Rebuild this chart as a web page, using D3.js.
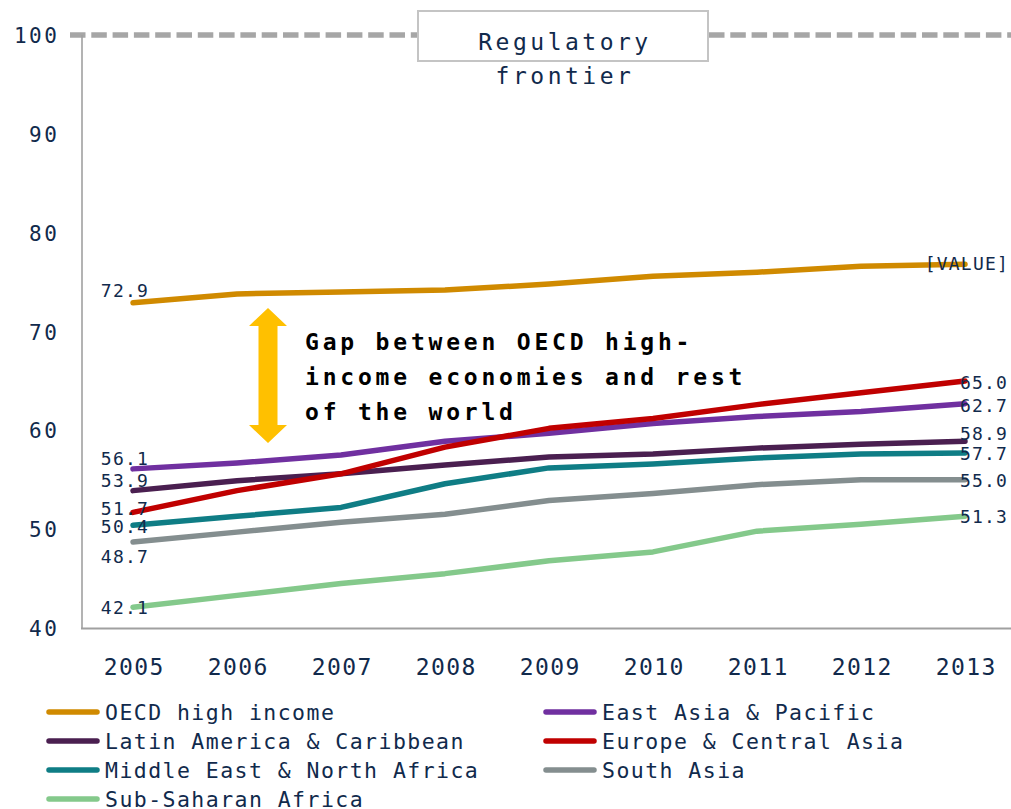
<!DOCTYPE html>
<html>
<head>
<meta charset="utf-8">
<script src="https://cdn.jsdelivr.net/npm/d3@7"></script>
<style>
  html, body { margin: 0; padding: 0; background: #fff; }
  svg { display: block; font-family: "DejaVu Sans Mono", monospace; }
</style>
</head>
<body>
<svg id="chart" width="1011" height="809"></svg>
<script>
// Regulatory scores by region, 2005-2013
const years = [2005, 2006, 2007, 2008, 2009, 2010, 2011, 2012, 2013];
const yTicks = [40, 50, 60, 70, 80, 90, 100];

const oecdHighIncome   = [72.9, 73.8, 74.0, 74.2, 74.8, 75.6, 76.0, 76.6, 76.8];
const eastAsiaPacific  = [56.1, 56.7, 57.5, 58.9, 59.7, 60.7, 61.4, 61.9, 62.7];
const latinAmerica     = [53.9, 54.9, 55.6, 56.5, 57.3, 57.6, 58.2, 58.6, 58.9];
const europeCentral    = [51.7, 53.9, 55.6, 58.3, 60.2, 61.2, 62.6, 63.8, 65.0];
const middleEastNA     = [50.4, 51.3, 52.2, 54.6, 56.2, 56.6, 57.2, 57.6, 57.7];
const southAsia        = [48.7, 49.7, 50.7, 51.5, 52.9, 53.6, 54.5, 55.0, 55.0];
const subSaharanAfrica = [42.1, 43.3, 44.5, 45.5, 46.8, 47.7, 49.8, 50.5, 51.3];

const seriesNames = [
  "OECD high income", "East Asia & Pacific", "Latin America & Caribbean",
  "Europe & Central Asia", "Middle East & North Africa", "South Asia",
  "Sub-Saharan Africa"
];
const seriesValues = [
  oecdHighIncome, eastAsiaPacific, latinAmerica, europeCentral,
  middleEastNA, southAsia, subSaharanAfrica
];
const seriesColors = ["#d08a00", "#7030a0", "#4a1f50", "#c00000", "#0f7d85", "#848e8f", "#84c98b"];

// End-label text (the OECD end label shows a placeholder)
const startLabels = ["72.9", "56.1", "53.9", "51.7", "50.4", "48.7", "42.1"];
const endLabels   = ["[VALUE]", "62.7", "58.9", "65.0", "57.7", "55.0", "51.3"];

// Vertical nudges for the start/end labels so they don't collide
const startNudge = [-12, -10.5, -10.5, -4, 1, 14.5, 0.5];
const endNudge   = [-1, 2, -8, 1.5, 0.5, 1, 0.5];

const ink = "#112a4c";
const svg = d3.select("#chart");

const x = d3.scalePoint().domain(years).range([133, 965]);
const y = d3.scaleLinear().domain([40, 100]).range([628, 35]);

// Regulatory frontier (dashed at 100)
svg.append("line")
  .attr("x1", 70).attr("x2", 1011)
  .attr("y1", y(100)).attr("y2", y(100))
  .attr("stroke", "#a6a6a6").attr("stroke-width", 5.5)
  .attr("stroke-dasharray", "15.5 5.8");

// Axes lines
svg.append("line")
  .attr("x1", 82).attr("x2", 82).attr("y1", y(100)).attr("y2", y(40))
  .attr("stroke", "#a0a0a0").attr("stroke-width", 1.6);
svg.append("line")
  .attr("x1", 81).attr("x2", 1011).attr("y1", y(40) + 0.5).attr("y2", y(40) + 0.5)
  .attr("stroke", "#a0a0a0").attr("stroke-width", 2);

// Y tick labels
const yAxis = d3.axisLeft(y).tickValues(yTicks).tickSize(0).tickPadding(0);
const gy = svg.append("g").attr("transform", "translate(57,0)").call(yAxis);
gy.select(".domain").remove();
gy.selectAll("text")
  .attr("fill", ink)
  .style("font-family", "DejaVu Sans Mono")
  .style("font-size", "21px")
  .style("letter-spacing", "2.6px")
  .attr("dx", "2.6px")
  .attr("dy", "0.36em");

// X tick labels
const xAxis = d3.axisBottom(x).tickSize(0).tickPadding(0).tickFormat(d3.format("d"));
const gx = svg.append("g").attr("transform", "translate(0,667)").call(xAxis);
gx.select(".domain").remove();
gx.selectAll("text")
  .attr("fill", ink)
  .attr("y", 0)
  .attr("dy", "0.36em")
  .attr("dx", "0.7px")
  .style("font-family", "DejaVu Sans Mono")
  .style("font-size", "23px")
  .style("letter-spacing", "1.4px");

// Annotation box
svg.append("rect")
  .attr("x", 418).attr("y", 11).attr("width", 290).attr("height", 50)
  .attr("fill", "#fff").attr("stroke", "#c4c4c4").attr("stroke-width", 2);
svg.append("text")
  .attr("x", 565).attr("y", 0)
  .attr("text-anchor", "middle")
  .attr("fill", ink)
  .style("font-size", "23px")
  .style("letter-spacing", "3.5px")
  .selectAll("tspan")
  .data(["Regulatory", "frontier"])
  .join("tspan")
  .attr("x", 565)
  .attr("y", (d, i) => 50 + i * 34)
  .text(d => d);

// Lines
const line = d3.line()
  .x((d, i) => x(years[i]))
  .y(d => y(d));

svg.append("g")
  .selectAll("path")
  .data(seriesValues)
  .join("path")
  .attr("d", d => line(d))
  .attr("fill", "none")
  .attr("stroke", (d, i) => seriesColors[i])
  .attr("stroke-width", 5.5)
  .attr("stroke-linecap", "round")
  .attr("stroke-linejoin", "round");

// Gap arrow (double-headed), spanning the space between OECD and the rest
const arrowX = 268;
const arrowTop = 308, arrowBottom = 443;
const headH = 18, headW = 19, shaftW = 9.5;
const arrowPath = d3.path();
arrowPath.moveTo(arrowX, arrowTop);
arrowPath.lineTo(arrowX + headW, arrowTop + headH);
arrowPath.lineTo(arrowX + shaftW, arrowTop + headH);
arrowPath.lineTo(arrowX + shaftW, arrowBottom - headH);
arrowPath.lineTo(arrowX + headW, arrowBottom - headH);
arrowPath.lineTo(arrowX, arrowBottom);
arrowPath.lineTo(arrowX - headW, arrowBottom - headH);
arrowPath.lineTo(arrowX - shaftW, arrowBottom - headH);
arrowPath.lineTo(arrowX - shaftW, arrowTop + headH);
arrowPath.lineTo(arrowX - headW, arrowTop + headH);
arrowPath.closePath();
svg.append("path").attr("d", arrowPath.toString()).attr("fill", "#ffc000");

svg.append("text")
  .attr("fill", "#000")
  .style("font-size", "23px")
  .style("font-weight", "bold")
  .style("letter-spacing", "3.8px")
  .selectAll("tspan")
  .data(["Gap between OECD high-", "income economies and rest", "of the world"])
  .join("tspan")
  .attr("x", 305)
  .attr("y", (d, i) => 350 + i * 35)
  .text(d => d);

// Start labels
svg.append("g")
  .selectAll("text")
  .data(seriesValues)
  .join("text")
  .attr("x", x(years[0]) + 16)
  .attr("y", (d, i) => y(d[0]) + startNudge[i])
  .attr("dy", "0.36em")
  .attr("text-anchor", "end")
  .attr("fill", ink)
  .style("font-size", "18px")
  .style("letter-spacing", "1.2px")
  .text((d, i) => startLabels[i]);

// End labels
svg.append("g")
  .selectAll("text")
  .data(seriesValues)
  .join("text")
  .attr("x", (d, i) => i === 0 ? 1009 : x(years[years.length - 1]) - 5)
  .attr("y", (d, i) => y(d[d.length - 1]) + endNudge[i])
  .attr("dy", "0.36em")
  .attr("text-anchor", (d, i) => i === 0 ? "end" : "start")
  .attr("fill", ink)
  .style("font-size", "18px")
  .style("letter-spacing", "1.2px")
  .text((d, i) => endLabels[i]);

// Legend: two columns, row-major
const legendCols = [46, 543];
const legendRows = [712, 741, 770, 799];
const legend = svg.append("g")
  .selectAll("g")
  .data(seriesNames)
  .join("g")
  .attr("transform", (d, i) => `translate(${legendCols[i % 2]},${legendRows[Math.floor(i / 2)]})`);
legend.append("line")
  .attr("x1", 3).attr("x2", 51).attr("y1", 0).attr("y2", 0)
  .attr("stroke", (d, i) => seriesColors[i])
  .attr("stroke-width", 5.5)
  .attr("stroke-linecap", "round");
legend.append("text")
  .attr("x", 59).attr("y", 0).attr("dy", "0.36em")
  .attr("fill", ink)
  .style("font-size", "21.5px")
  .style("letter-spacing", "1.45px")
  .text(d => d);
</script>
</body>
</html>
